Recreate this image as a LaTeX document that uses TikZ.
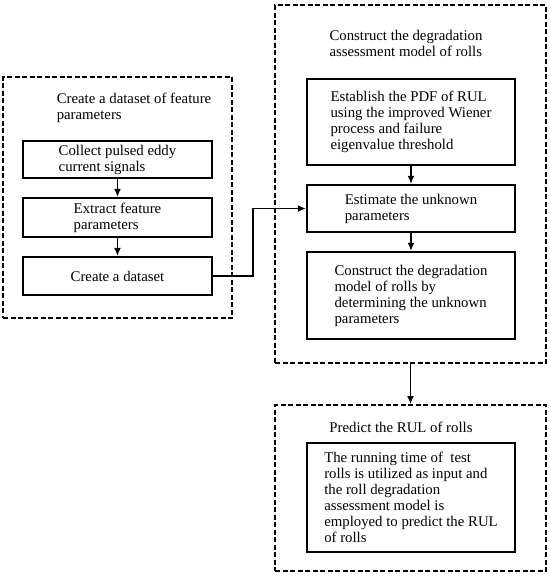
\documentclass[tikz,border=0pt]{standalone}
\usepackage{fontspec}
\setmainfont{Liberation Serif}
\usepackage{tikz}
\usetikzlibrary{shapes,arrows,arrows.meta,positioning}
\tikzstyle{dashframe}=[rectangle, draw, line width=1.8pt, dash pattern=on 5pt off 2.5pt]
\tikzstyle{stepbox}=[rectangle, draw, line width=2.2pt, align=left, inner sep=0pt]
\tikzstyle{framelabel}=[align=left, inner sep=0pt]

\begin{document}
\begin{tikzpicture}[every node/.style = {font=\fontsize{14.8}{16}\selectfont}, >={Latex[length=8pt,width=7pt]}]
\useasboundingbox (0,0) rectangle (550pt,-574pt);

\node[dashframe, minimum width=229pt, minimum height=241pt] (frameL) at (117.5pt,-197.5pt) {};
\node[dashframe, minimum width=271pt, minimum height=358pt] (frameR) at (410.5pt,-184pt) {};
\node[dashframe, minimum width=271pt, minimum height=166pt] (frameB) at (410.5pt,-488pt) {};

\node[framelabel] (titleL) at (134pt,-108pt) {Create a dataset of feature\\parameters};
\node[framelabel] (titleR) at (406pt,-43pt) {Construct the degradation\\assessment model of rolls};
\node[framelabel] (titleB) at (401pt,-427pt) {Predict the RUL of rolls};

\node[stepbox, minimum width=189pt, minimum height=37pt] (p1) at (117.5pt,-159.5pt) {Collect pulsed eddy\\current signals};
\node[stepbox, minimum width=189pt, minimum height=39pt] (p2) at (117.5pt,-217.5pt) {Extract feature\\parameters};
\node[stepbox, minimum width=189pt, minimum height=38pt] (p3) at (117.5pt,-276pt) {Create a dataset};

\node[stepbox, minimum width=208pt, minimum height=86pt] (m1) at (411pt,-122pt) {Establish the PDF of RUL\\using the improved Wiener\\process and failure\\eigenvalue threshold};
\node[stepbox, minimum width=208pt, minimum height=47pt] (m2) at (411pt,-208.5pt) {Estimate the unknown\\parameters};
\node[stepbox, minimum width=208pt, minimum height=87pt] (m3) at (411pt,-295.5pt) {Construct the degradation\\model of rolls by\\determining the unknown\\parameters};

\node[stepbox, minimum width=208pt, minimum height=109pt] (r1) at (411pt,-497.5pt) {The running time of~ test\\rolls is utilized as input and\\the roll degradation\\assessment model is\\employed to predict the RUL\\of rolls};

\draw[->,line width=1.9pt](p1.south) -- (p2.north);
\draw[->,line width=1.9pt](p2.south) -- (p3.north);
\draw[->,line width=1.9pt](p3.east) -- ++(40pt,0) |- (m2.west);
\draw[->,line width=1.9pt](m1.south) -- (m2.north);
\draw[->,line width=1.9pt](m2.south) -- (m3.north);
\draw[->,line width=1.9pt](frameR.south) -- (frameB.north);

\end{tikzpicture}
\end{document}
